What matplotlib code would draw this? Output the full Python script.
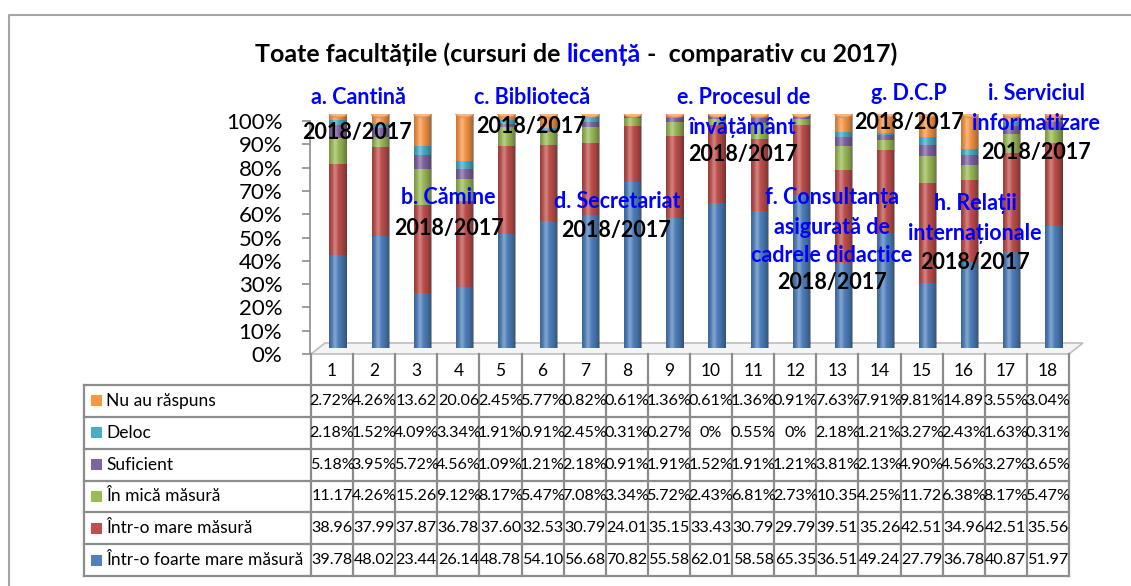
import matplotlib
matplotlib.use("Agg")
import matplotlib.pyplot as plt
from matplotlib.patches import Ellipse, Rectangle, Polygon
import numpy as np

plt.rcParams['font.family'] = ['Lato', 'DejaVu Sans']

columns = [str(i) for i in range(1, 19)]
series_names = ["Nu au răspuns", "Deloc", "Suficient", "În mică măsură",
                "Într-o mare măsură", "Într-o foarte mare măsură"]
nu_au_raspuns = [2.72, 4.26, 13.62, 20.06, 2.45, 5.77, 0.82, 0.61, 1.36,
                 0.61, 1.36, 0.91, 7.63, 7.91, 9.81, 14.89, 3.55, 3.04]
deloc = [2.18, 1.52, 4.09, 3.34, 1.91, 0.91, 2.45, 0.31, 0.27,
         0.0, 0.55, 0.0, 2.18, 1.21, 3.27, 2.43, 1.63, 0.31]
suficient = [5.18, 3.95, 5.72, 4.56, 1.09, 1.21, 2.18, 0.91, 1.91,
             1.52, 1.91, 1.21, 3.81, 2.13, 4.90, 4.56, 3.27, 3.65]
in_mica_masura = [11.17, 4.26, 15.26, 9.12, 8.17, 5.47, 7.08, 3.34, 5.72,
                  2.43, 6.81, 2.73, 10.35, 4.25, 11.72, 6.38, 8.17, 5.47]
intr_o_mare_masura = [38.96, 37.99, 37.87, 36.78, 37.60, 32.53, 30.79, 24.01, 35.15,
                      33.43, 30.79, 29.79, 39.51, 35.26, 42.51, 34.96, 42.51, 35.56]
intr_o_foarte_mare_masura = [39.78, 48.02, 23.44, 26.14, 48.78, 54.10, 56.68, 70.82, 55.58,
                             62.01, 58.58, 65.35, 36.51, 49.24, 27.79, 36.78, 40.87, 51.97]
series = [nu_au_raspuns, deloc, suficient, in_mica_masura,
          intr_o_mare_masura, intr_o_foarte_mare_masura]
colors = ["#F79646", "#4BACC6", "#8064A2", "#9BBB59", "#C0504D", "#4F81BD"]

title_parts = [("Toate facultățile (cursuri de ", "black"), ("licență", "#0000FF"),
               (" -  comparativ cu 2017)", "black")]

# overlay captions: text, colour, centre x px, centre y px
captions = [
    ("a. Cantină", "#0000FF", 358, 98), ("2018/2017", "black", 357, 133),
    ("b. Cămine", "#0000FF", 448, 198), ("2018/2017", "black", 449, 228),
    ("c. Bibliotecă", "#0000FF", 532, 97), ("2018/2017", "black", 531, 127),
    ("d. Secretariat", "#0000FF", 617, 201), ("2018/2017", "black", 616, 230),
    ("e. Procesul de", "#0000FF", 744, 97), ("învățământ", "#0000FF", 743, 127),
    ("2018/2017", "black", 743, 155),
    ("f. Consultanța", "#0000FF", 832, 197), ("asigurată de", "#0000FF", 832, 227),
    ("cadrele didactice", "#0000FF", 832, 255), ("2018/2017", "black", 832, 283),
    ("g. D.C.P", "#0000FF", 909, 93), ("2018/2017", "black", 909, 123),
    ("h. Relații", "#0000FF", 975, 203), ("internaționale", "#0000FF", 975, 233),
    ("2018/2017", "black", 975, 262),
    ("i. Serviciul", "#0000FF", 1036, 93), ("informatizare", "#0000FF", 1036, 123),
    ("2018/2017", "black", 1036, 152),
]

W, H = 1131, 586
fig = plt.figure(figsize=(W / 100, H / 100), dpi=100)


def rect(x0, y0, x1, y1):
    # pixel box (top-left origin) -> figure fraction
    return [x0 / W, 1 - y1 / H, (x1 - x0) / W, (y1 - y0) / H]


GRID = "#8C8C8C"
TAB_L, TAB_X0, TAB_X1 = 84, 311, 1069
FLOOR_Y = 354
TAB_FS = 12.5
CELL_FS = 11.6

# background: frame, floor, table
bg = fig.add_axes([0, 0, 1, 1], zorder=0)
bg.set_xlim(0, W); bg.set_ylim(H, 0); bg.axis("off")
bg.plot([9, 9, W], [H, 15, 15], color="#A6A6A6", lw=1.5)
bg.add_patch(Polygon([(TAB_X0, FLOOR_Y), (TAB_X1, FLOOR_Y), (TAB_X1 + 14, FLOOR_Y - 11),
                      (TAB_X0 + 14, FLOOR_Y - 11)], closed=True, facecolor="#F4F4F4",
                     edgecolor="#BFBFBF", lw=1.2))

col_edges = np.linspace(TAB_X0, TAB_X1, len(columns) + 1)
row_edges = np.linspace(385, 576, len(series) + 1)
for x in col_edges:
    bg.plot([x, x], [FLOOR_Y, row_edges[-1]], color=GRID, lw=1.6)
bg.plot([TAB_L, TAB_L], [row_edges[0], row_edges[-1]], color=GRID, lw=1.6)
for y in row_edges:
    bg.plot([TAB_L, TAB_X1], [y, y], color=GRID, lw=1.6)

col_mid = (col_edges[:-1] + col_edges[1:]) / 2
row_mid = (row_edges[:-1] + row_edges[1:]) / 2
for cx, lab in zip(col_mid, columns):
    bg.text(cx, 371, lab, ha="center", va="center", fontsize=TAB_FS)


def cell_text(v):
    if v == 0:
        return "0%"
    return f"{v:.2f}%" if v < 10 else f"{v:.2f}"


for ry, name, vals, c in zip(row_mid, series_names, series, colors):
    bg.add_patch(Rectangle((91, ry - 5.5), 11, 11, facecolor=c, edgecolor="none"))
    bg.text(106, ry, name, ha="left", va="center", fontsize=TAB_FS)
    for cx, v in zip(col_mid, vals):
        bg.text(cx, ry, cell_text(v), ha="center", va="center", fontsize=CELL_FS)

# front axis with percentage ticks
front = fig.add_axes(rect(310, 121, TAB_X1, FLOOR_Y), zorder=1)
front.patch.set_alpha(0)
front.set_ylim(0, 100); front.set_xlim(0, 1)
for s in ["top", "right", "bottom"]:
    front.spines[s].set_visible(False)
front.spines["left"].set_color(GRID)
front.spines["left"].set_linewidth(1.2)
front.set_xticks([])
front.set_yticks(np.arange(0, 101, 10))
front.set_yticklabels([f"{t}%" for t in range(0, 101, 10)], fontsize=16)
front.tick_params(axis="y", length=6, width=1.2, color=GRID, pad=14)

# bars, shifted back for the 3D look
ax = fig.add_axes(rect(TAB_X0 + 6, 114, TAB_X1 + 6, FLOOR_Y - 6), zorder=2)
ax.patch.set_alpha(0)
ax.axis("off")
xs = np.arange(1, len(columns) + 1)
data = np.array(series[::-1])
data = data / data.sum(axis=0) * 100
bw = 0.41
bottom = np.zeros(len(xs))
for vals, c in zip(data, colors[::-1]):
    ax.bar(xs, vals, bw, bottom=bottom, color=c, edgecolor="none", zorder=2)
    bottom += vals

t = np.linspace(0, 1, 64)
shade = np.zeros((1, 64, 4))
shade[..., 3] = 0.38 * (np.abs(t - 0.4) / 0.6) ** 1.6
light = np.ones((1, 64, 4))
light[..., 3] = 0.28 * np.exp(-((t - 0.33) / 0.13) ** 2)
for x in xs:
    ax.add_patch(Ellipse((x, 0), bw, 2.8, facecolor=colors[-1], edgecolor="none", zorder=1))
    for img in (shade, light):
        im = ax.imshow(img, extent=[x - bw / 2, x + bw / 2, 0, 100], aspect="auto",
                       zorder=3, interpolation="bilinear")
        im.set_clip_path(Rectangle((x - bw / 2, 0), bw, 100, transform=ax.transData))
    ax.add_patch(Ellipse((x, 100), bw, 2.8, facecolor="#F9B483", edgecolor="#E98A3C",
                         lw=0.8, zorder=4))
ax.set_xlim(0.5, len(columns) + 0.5)
ax.set_ylim(0, 100)

# top overlay: title and captions
top = fig.add_axes([0, 0, 1, 1], zorder=3)
top.set_xlim(0, W); top.set_ylim(H, 0); top.axis("off")
fig.canvas.draw()
renderer = fig.canvas.get_renderer()
pieces = [top.text(0, 54, s, color=c, fontsize=18, fontweight="bold", va="center")
          for s, c in title_parts]
widths = [p.get_window_extent(renderer).width for p in pieces]
x0 = 576 - sum(widths) / 2
for p, w in zip(pieces, widths):
    p.set_x(x0)
    x0 += w

for s, c, x, y in captions:
    top.text(x, y, s, color=c, fontsize=15.5, fontweight="bold", ha="center", va="center")

fig.savefig("out.png", dpi=100)
